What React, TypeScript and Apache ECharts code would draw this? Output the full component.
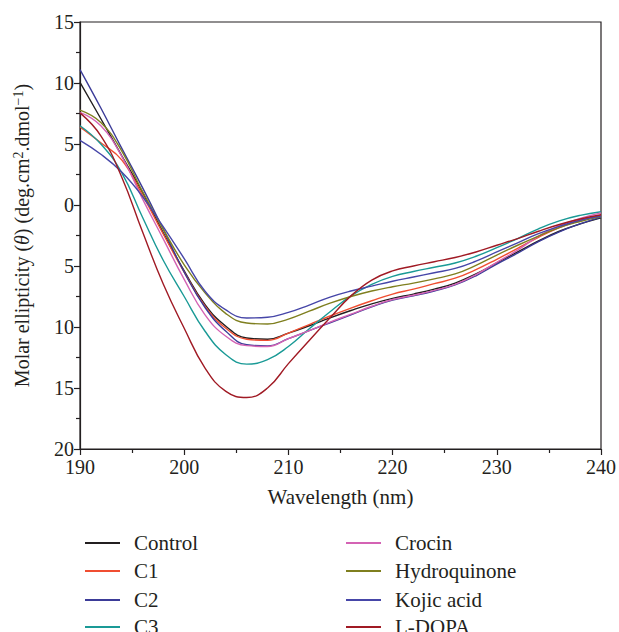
import React, { useEffect, useRef } from "react";
import * as echarts from "echarts";

const wavelengths = [190, 192, 194, 196, 198, 200, 202, 204, 206, 208, 210, 212, 214, 216, 218, 220, 222, 224, 226, 228, 230, 232, 234, 236, 238, 240];

const control = [10.05, 7.07, 4.05, 1.04, -2.3, -5.4, -8.16, -9.94, -10.9, -11.0, -10.5, -9.9, -9.25, -8.65, -8.1, -7.65, -7.3, -6.9, -6.4, -5.65, -4.75, -3.85, -2.95, -2.15, -1.55, -1.05];
const c1 = [6.4, 5.1, 3.7, 0.8, -2.4, -5.5, -8.3, -10.1, -11.0, -11.1, -10.5, -9.8, -9.1, -8.45, -7.85, -7.3, -6.9, -6.45, -6.0, -5.3, -4.45, -3.55, -2.65, -1.85, -1.25, -0.85];
const c2 = [11.1, 7.95, 4.66, 1.42, -2.0, -5.5, -8.4, -10.35, -11.45, -11.55, -10.95, -10.3, -9.65, -9.0, -8.35, -7.8, -7.45, -7.05, -6.55, -5.8, -4.85, -3.95, -3.0, -2.2, -1.55, -1.0];
const c3 = [6.5, 5.0, 2.66, -1.0, -4.55, -7.5, -10.35, -12.27, -13.04, -12.68, -11.6, -10.15, -8.75, -7.45, -6.5, -5.85, -5.45, -5.1, -4.75, -4.2, -3.5, -2.75, -1.95, -1.3, -0.85, -0.55];
const crocin = [7.6, 6.5, 4.0, 0.5, -2.8, -6.1, -9.0, -10.76, -11.53, -11.6, -10.95, -10.3, -9.6, -8.95, -8.3, -7.75, -7.4, -7.0, -6.5, -5.7, -4.7, -3.7, -2.55, -1.7, -1.1, -0.65];
const hydroquinone = [7.78, 6.77, 4.44, 1.1, -2.0, -4.9, -7.2, -8.9, -9.67, -9.75, -9.35, -8.7, -8.05, -7.5, -7.05, -6.7, -6.4, -6.05, -5.65, -4.95, -4.1, -3.3, -2.55, -1.85, -1.35, -0.95];
const kojicAcid = [5.3, 4.16, 2.7, 0.7, -1.8, -4.4, -7.07, -8.6, -9.26, -9.2, -8.8, -8.2, -7.55, -7.05, -6.65, -6.25, -5.9, -5.55, -5.2, -4.6, -3.85, -3.1, -2.35, -1.75, -1.25, -0.9];
const lDopa = [7.55, 5.67, 2.3, -2.2, -6.5, -10.1, -13.37, -15.28, -15.78, -15.0, -13.0, -11.1, -9.25, -7.45, -6.15, -5.4, -5.0, -4.65, -4.3, -3.85, -3.3, -2.75, -2.15, -1.6, -1.15, -0.8];

const seriesNames = ["Control", "C1", "C2", "C3", "Crocin", "Hydroquinone", "Kojic acid", "L-DOPA"];
const seriesValues = [control, c1, c2, c3, crocin, hydroquinone, kojicAcid, lDopa];
const seriesColors = ["#231f20", "#f04e31", "#3b3b98", "#1a9a96", "#d463b4", "#7f7f1f", "#4646a8", "#a01a24"];

const xTicks = { min: 190, max: 240, interval: 10 };
const yTicks = { min: -20, max: 15, interval: 5 };

const FONT = "'Liberation Serif', 'DejaVu Serif', serif";
const INK = "#231f20";
const FS = 21;
const TICK_FS = 20;

export default function App() {
  const ref = useRef<HTMLDivElement>(null);
  useEffect(() => {
    if (!ref.current) return;
    const chart = echarts.init(ref.current, undefined, { renderer: "svg" });
    const rowTops = [527, 555, 584, 611];
    const colLefts = [80, 341];
    const legends = seriesNames.map((name, i) => ({
      orient: "vertical" as const,
      left: colLefts[Math.floor(i / 4)],
      top: rowTops[i % 4],
      itemWidth: 35,
      itemHeight: 2,
      icon: "rect",
      data: [name],
      textStyle: { fontFamily: FONT, fontSize: FS, color: INK, lineHeight: 22, padding: [0, 0, 0, 9] },
    }));
    chart.setOption({
      animation: false,
      backgroundColor: "#ffffff",
      grid: { left: 80, right: 18, top: 22, bottom: 183, show: true, borderColor: INK, borderWidth: 1.2, backgroundColor: "transparent" },
      legend: legends,
      xAxis: {
        type: "value",
        min: xTicks.min,
        max: xTicks.max,
        interval: xTicks.interval,
        name: "Wavelength (nm)",
        nameLocation: "middle",
        nameGap: 37,
        nameTextStyle: { fontFamily: FONT, fontSize: FS, color: INK },
        axisLine: { show: true, onZero: false, lineStyle: { color: INK, width: 1.2 } },
        axisTick: { show: true, length: 6, lineStyle: { color: INK, width: 1.2 } },
        minorTick: { show: true, splitNumber: 2, length: 4, lineStyle: { color: INK, width: 1.2 } },
        axisLabel: { fontFamily: FONT, fontSize: TICK_FS, color: INK, margin: 8 },
        splitLine: { show: false },
      },
      yAxis: {
        type: "value",
        min: yTicks.min,
        max: yTicks.max,
        interval: yTicks.interval,
        name: "Molar ellipticity ({i|θ}) (deg.cm{sup|2}.dmol{sup|−1})",
        nameLocation: "middle",
        nameGap: 47,
        nameTextStyle: {
          fontFamily: FONT,
          fontSize: FS - 1,
          color: INK,
          rich: {
            i: { fontFamily: FONT, fontSize: FS - 1, fontStyle: "italic", color: INK },
            sup: { fontFamily: FONT, fontSize: 14, color: INK, verticalAlign: "top", padding: [0, 0, 8, 0] },
          },
        },
        axisLine: { show: true, onZero: false, lineStyle: { color: INK, width: 1.2 } },
        axisTick: { show: true, length: 6, lineStyle: { color: INK, width: 1.2 } },
        minorTick: { show: true, splitNumber: 2, length: 4, lineStyle: { color: INK, width: 1.2 } },
        axisLabel: {
          fontFamily: FONT,
          fontSize: TICK_FS,
          color: INK,
          margin: 6,
          formatter: (v: number) => String(Math.abs(v)),
        },
        splitLine: { show: false },
      },
      series: seriesNames.map((name, i) => ({
        name,
        type: "line",
        smooth: 0.45,
        symbol: "none",
        data: wavelengths.map((w, j) => [w, seriesValues[i][j]]),
        lineStyle: { color: seriesColors[i], width: 1.4 },
        itemStyle: { color: seriesColors[i] },
      })),
    });
    return () => chart.dispose();
  }, []);
  return (
    <div
      ref={ref}
      style={{ position: "fixed", left: 0, top: 0, width: 619, height: 632, background: "#ffffff" }}
    />
  );
}
